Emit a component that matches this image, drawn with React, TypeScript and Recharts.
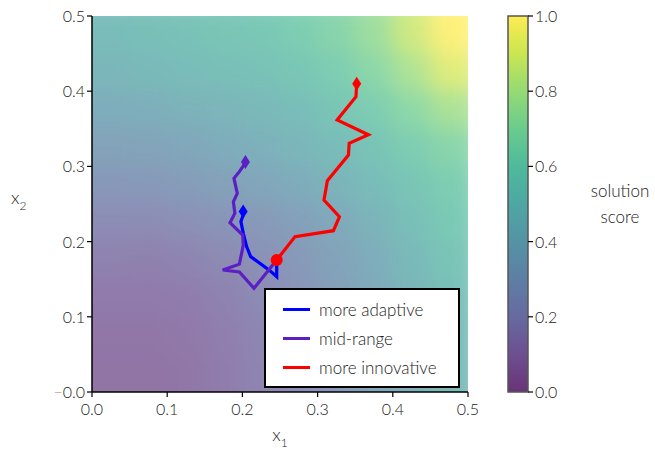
import React from 'react';
import {
  ComposedChart,
  BarChart,
  Bar,
  Line,
  Scatter,
  XAxis,
  YAxis,
  ReferenceArea,
  Legend,
} from 'recharts';

// grid of the background field (rows go from top, x2 = 0.5, down to x2 = 0)
const xEdges = [0, 0.05, 0.1, 0.15, 0.2, 0.25, 0.3, 0.35, 0.4, 0.45, 0.5];
const yEdges = [0.5, 0.45, 0.4, 0.35, 0.3, 0.25, 0.2, 0.15, 0.1, 0.05, 0];
const scoreGrid = [
  [0.5, 0.52, 0.54, 0.56, 0.58, 0.62, 0.67, 0.75, 0.88, 1.0],
  [0.46, 0.48, 0.5, 0.52, 0.54, 0.57, 0.62, 0.69, 0.8, 0.92],
  [0.4, 0.41, 0.43, 0.45, 0.48, 0.51, 0.56, 0.62, 0.7, 0.79],
  [0.33, 0.34, 0.36, 0.39, 0.42, 0.46, 0.5, 0.55, 0.62, 0.68],
  [0.26, 0.27, 0.29, 0.32, 0.35, 0.39, 0.44, 0.5, 0.56, 0.62],
  [0.19, 0.19, 0.21, 0.24, 0.27, 0.31, 0.37, 0.44, 0.52, 0.59],
  [0.14, 0.13, 0.15, 0.18, 0.22, 0.27, 0.33, 0.4, 0.48, 0.55],
  [0.1, 0.1, 0.11, 0.14, 0.18, 0.24, 0.3, 0.37, 0.45, 0.52],
  [0.08, 0.08, 0.09, 0.12, 0.16, 0.21, 0.28, 0.35, 0.43, 0.5],
  [0.07, 0.07, 0.08, 0.11, 0.15, 0.2, 0.27, 0.34, 0.42, 0.49],
];

const adaptivePath = [
  { x: 0.2456, y: 0.1755 },
  { x: 0.2456, y: 0.1533 },
  { x: 0.2358, y: 0.162 },
  { x: 0.211, y: 0.18 },
  { x: 0.2057, y: 0.193 },
  { x: 0.2012, y: 0.211 },
  { x: 0.198, y: 0.2265 },
  { x: 0.201, y: 0.2354 },
  { x: 0.201, y: 0.24 },
];

const midPath = [
  { x: 0.2456, y: 0.1755 },
  { x: 0.2154, y: 0.1379 },
  { x: 0.196, y: 0.1596 },
  { x: 0.1738, y: 0.1622 },
  { x: 0.196, y: 0.17 },
  { x: 0.2012, y: 0.1955 },
  { x: 0.2004, y: 0.2088 },
  { x: 0.1835, y: 0.2251 },
  { x: 0.19, y: 0.2376 },
  { x: 0.188, y: 0.253 },
  { x: 0.1932, y: 0.2642 },
  { x: 0.1888, y: 0.2841 },
  { x: 0.196, y: 0.293 },
  { x: 0.2012, y: 0.3005 },
  { x: 0.204, y: 0.306 },
];

const innovativePath = [
  { x: 0.2456, y: 0.1755 },
  { x: 0.27, y: 0.2066 },
  { x: 0.321, y: 0.2145 },
  { x: 0.329, y: 0.233 },
  { x: 0.3085, y: 0.2553 },
  { x: 0.313, y: 0.281 },
  { x: 0.341, y: 0.315 },
  { x: 0.342, y: 0.3307 },
  { x: 0.3675, y: 0.342 },
  { x: 0.326, y: 0.3617 },
  { x: 0.351, y: 0.3927 },
  { x: 0.352, y: 0.41 },
];

const axisTicks = [0, 0.1, 0.2, 0.3, 0.4, 0.5];
const colorbarTicks = [0, 0.2, 0.4, 0.6, 0.8, 1];
const colorbarData = [{ name: 'score', v: 1 }];

const series = [
  { name: 'more adaptive', color: '#0000ff', data: adaptivePath },
  { name: 'mid-range', color: '#5b1fc4', data: midPath },
  { name: 'more innovative', color: '#ff0000', data: innovativePath },
];

// viridis colormap stops
const viridis = [
  '#440154', '#482475', '#414487', '#355f8d', '#2a788e', '#21918c',
  '#22a884', '#44bf70', '#7ad151', '#bddf26', '#fde725',
];

const hexToRgb = (h: string) => [
  parseInt(h.slice(1, 3), 16),
  parseInt(h.slice(3, 5), 16),
  parseInt(h.slice(5, 7), 16),
];

const viridisColor = (v: number) => {
  const t = Math.max(0, Math.min(1, v)) * (viridis.length - 1);
  const i = Math.min(Math.floor(t), viridis.length - 2);
  const f = t - i;
  const a = hexToRgb(viridis[i]);
  const b = hexToRgb(viridis[i + 1]);
  const c = a.map((av, k) => Math.round(av + (b[k] - av) * f));
  return `rgb(${c[0]},${c[1]},${c[2]})`;
};

const FONT = 'Lato, "Open Sans", sans-serif';
const tickStyle = { fontFamily: FONT, fontWeight: 300, fontSize: 16, fill: '#222' };
const MARGIN = { top: 16, right: 12, bottom: 63, left: 92 };
const PAD = 0.05; // edge cells run past the frame so the blur has no fade at the border

const YTick = (props: any) => {
  const { x, y, payload } = props;
  const v = payload.value;
  return (
    <text x={x} y={y} dy={6} textAnchor="end" style={tickStyle}>
      {v === 0 ? <tspan fill="#999">−</tspan> : null}
      {v.toFixed(1)}
    </text>
  );
};

const XTick = (props: any) => {
  const { x, y, payload } = props;
  return (
    <text x={x} y={y} dy={16} textAnchor="middle" style={tickStyle}>
      {payload.value.toFixed(1)}
    </text>
  );
};

const CbTick = (props: any) => {
  const { x, y, payload } = props;
  return (
    <text x={x} y={y} dy={6} textAnchor="start" style={tickStyle}>
      {payload.value.toFixed(1)}
    </text>
  );
};

const Diamond = (props: any) => {
  const { cx, cy, fill } = props;
  if (cx == null || cy == null) return null;
  return (
    <path
      d={`M${cx},${cy - 7}L${cx + 4.5},${cy}L${cx},${cy + 7}L${cx - 4.5},${cy}Z`}
      fill={fill}
    />
  );
};

const StartDot = (props: any) => {
  const { cx, cy, fill } = props;
  if (cx == null || cy == null) return null;
  return <circle cx={cx} cy={cy} r={6} fill={fill} />;
};

const LegendBox = () => (
  <div
    style={{
      background: '#fff',
      border: '2px solid #000',
      padding: '5px 10px 4px 17px',
      fontFamily: FONT,
      fontWeight: 300,
      fontSize: 17,
      color: '#222',
      width: 165,
    }}
  >
    {series.map((s) => (
      <div key={s.name} style={{ display: 'flex', alignItems: 'center', height: 29 }}>
        <span style={{ display: 'inline-block', width: 27, height: 3, background: s.color, marginRight: 9 }} />
        {s.name}
      </div>
    ))}
  </div>
);

const HeatField = () => {
  const last = scoreGrid.length - 1;
  const cells: React.ReactNode[] = [];
  scoreGrid.forEach((row, r) =>
    row.forEach((v, c) => {
      const x1 = c === 0 ? xEdges[0] - PAD : xEdges[c];
      const x2 = c === row.length - 1 ? xEdges[c + 1] + PAD : xEdges[c + 1];
      const y1 = r === last ? yEdges[r + 1] - PAD : yEdges[r + 1];
      const y2 = r === 0 ? yEdges[r] + PAD : yEdges[r];
      cells.push(
        <ReferenceArea
          key={`c${r}-${c}`}
          x1={x1}
          x2={x2}
          y1={y1}
          y2={y2}
          fill={viridisColor(v)}
          fillOpacity={1}
          stroke={viridisColor(v)}
          strokeWidth={1}
          ifOverflow="visible"
        />
      );
    })
  );
  return (
    <ComposedChart width={480} height={455} margin={MARGIN} style={{ filter: 'blur(11px)' }}>
      <XAxis type="number" dataKey="x" domain={[0, 0.5]} allowDataOverflow hide />
      <YAxis type="number" dataKey="y" domain={[0, 0.5]} allowDataOverflow hide />
      {cells}
    </ComposedChart>
  );
};

export default function App() {
  return (
    <div style={{ position: 'absolute', left: 0, top: 0, width: 655, height: 455, background: '#fff' }}>
      <div
        style={{
          position: 'absolute',
          left: MARGIN.left,
          top: MARGIN.top,
          width: 480 - MARGIN.left - MARGIN.right,
          height: 455 - MARGIN.top - MARGIN.bottom,
          overflow: 'hidden',
        }}
      >
        <div style={{ position: 'absolute', left: -MARGIN.left, top: -MARGIN.top, opacity: 0.6 }}>
          <HeatField />
        </div>
      </div>

      <ComposedChart
        width={480}
        height={455}
        margin={{ top: 16, right: 12, bottom: 23, left: 30 }}
        style={{ position: 'absolute', left: 0, top: 0 }}
      >
        <XAxis
          type="number"
          dataKey="x"
          domain={[0, 0.5]}
          ticks={axisTicks}
          allowDataOverflow
          height={40}
          tick={<XTick />}
          tickSize={5}
          axisLine={{ stroke: '#000', strokeWidth: 1.5 }}
          tickLine={{ stroke: '#000', strokeWidth: 1.2 }}
          label={({ viewBox }: any) => (
            <text x={viewBox.x + viewBox.width / 2} y={441} textAnchor="middle" style={{ ...tickStyle, fontSize: 18 }}>
              x<tspan dy={6} fontSize={12}>1</tspan>
            </text>
          )}
        />
        <YAxis
          type="number"
          dataKey="y"
          domain={[0, 0.5]}
          ticks={axisTicks}
          allowDataOverflow
          width={62}
          tick={<YTick />}
          tickSize={5}
          axisLine={{ stroke: '#000', strokeWidth: 1.5 }}
          tickLine={{ stroke: '#000', strokeWidth: 1.2 }}
          label={({ viewBox }: any) => (
            <text x={11} y={viewBox.y + viewBox.height / 2} textAnchor="start" style={{ ...tickStyle, fontSize: 18 }}>
              x<tspan dy={6} fontSize={12}>2</tspan>
            </text>
          )}
        />
        {series.map((s) => (
          <Line
            key={s.name}
            data={s.data}
            dataKey="y"
            type="linear"
            stroke={s.color}
            strokeWidth={3.2}
            dot={false}
            activeDot={false}
            isAnimationActive={false}
          />
        ))}
        {series.map((s) => (
          <Scatter
            key={`end-${s.name}`}
            data={[s.data[s.data.length - 1]]}
            dataKey="y"
            fill={s.color}
            shape={<Diamond />}
            isAnimationActive={false}
          />
        ))}
        <Scatter
          data={[innovativePath[0]]}
          dataKey="y"
          fill="#ff0000"
          shape={<StartDot />}
          isAnimationActive={false}
        />
        <Legend
          layout="vertical"
          align="center"
          verticalAlign="middle"
          content={() => <LegendBox />}
          wrapperStyle={{ position: 'absolute', left: 264, top: 288, width: 'auto' }}
        />
      </ComposedChart>

      <BarChart
        width={185}
        height={455}
        data={colorbarData}
        margin={{ top: 16, right: 67, bottom: 63, left: 38 }}
        barCategoryGap={0}
        style={{ position: 'absolute', left: 470, top: 0 }}
      >
        <defs>
          <linearGradient id="cbGrad" x1="0" y1="1" x2="0" y2="0">
            {viridis.map((c, i) => (
              <stop key={i} offset={`${(i / (viridis.length - 1)) * 100}%`} stopColor={c} stopOpacity={0.8} />
            ))}
          </linearGradient>
        </defs>
        <XAxis dataKey="name" hide />
        <YAxis
          orientation="right"
          type="number"
          domain={[0, 1]}
          ticks={colorbarTicks}
          width={60}
          tick={<CbTick />}
          tickSize={5}
          axisLine={false}
          tickLine={{ stroke: '#000', strokeWidth: 1.2 }}
          label={({ viewBox }: any) => (
            <text x={150} y={viewBox.y + viewBox.height / 2} textAnchor="middle" style={{ ...tickStyle, fontSize: 17 }}>
              <tspan x={150} dy={-7}>solution</tspan>
              <tspan x={150} dy={26}>score</tspan>
            </text>
          )}
        />
        <Bar dataKey="v" fill="url(#cbGrad)" stroke="#555" strokeWidth={1.5} isAnimationActive={false} />
      </BarChart>
    </div>
  );
}
